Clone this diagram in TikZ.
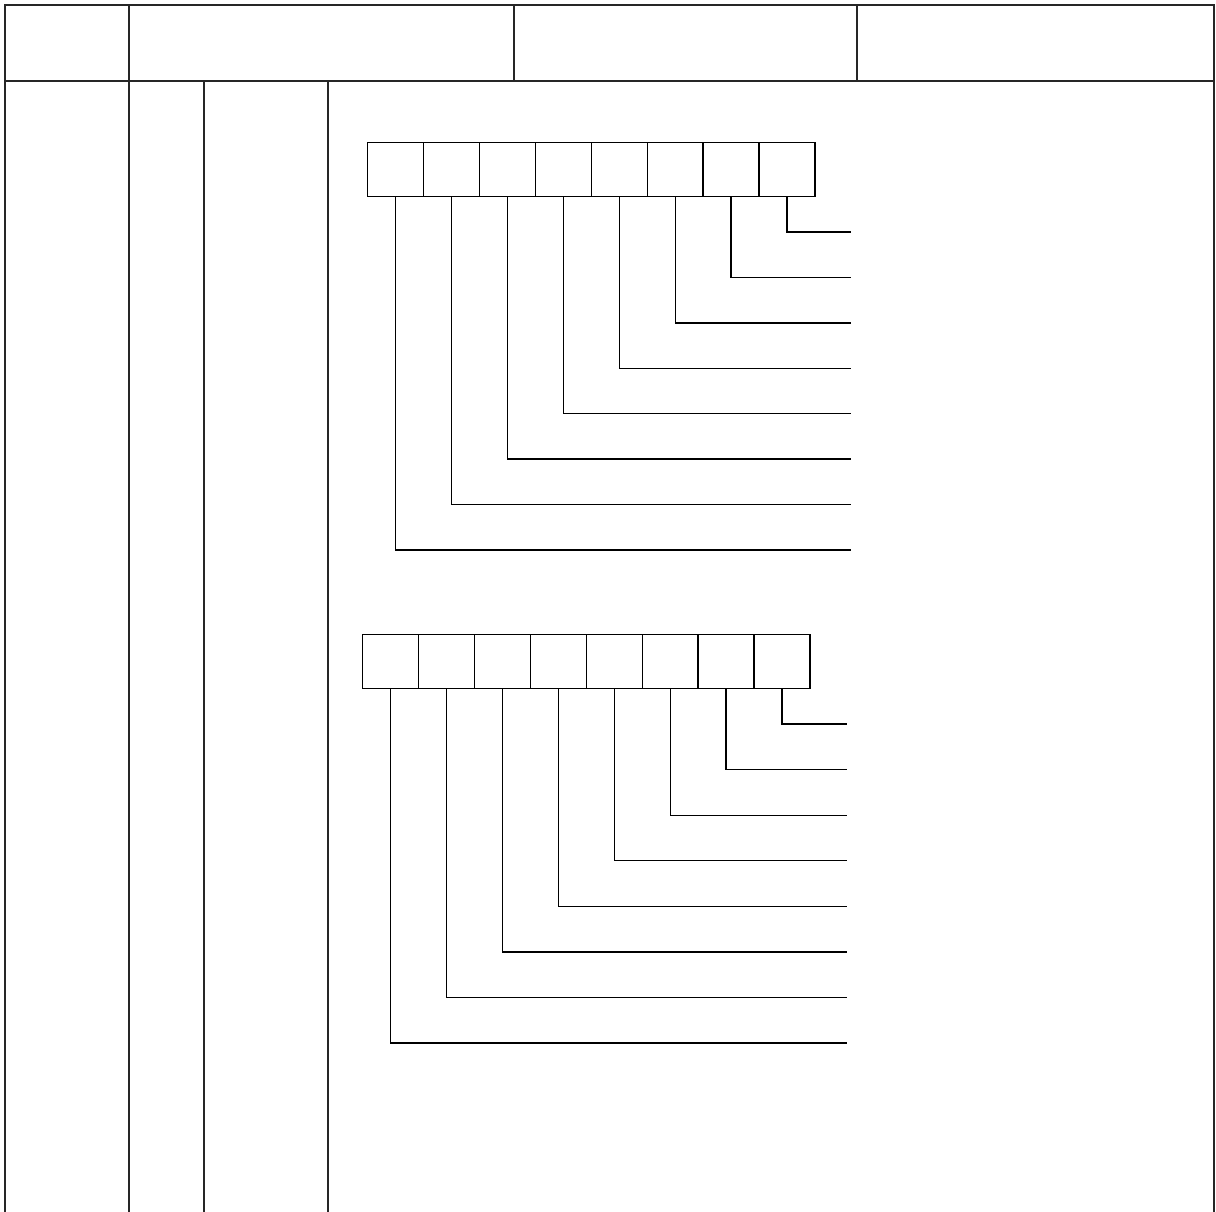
\documentclass[tikz,border=0pt]{standalone}
\begin{document}
\begin{tikzpicture}[x=1pt,y=-1pt,
  rule/.style={line width=1.3pt, draw=black!85},
  cell/.style={draw, line width=1.3pt, rectangle, minimum width=56pt, minimum height=54pt, inner sep=0pt, anchor=north west},
  wire/.style={line width=1.3pt}]
\useasboundingbox (0,0) rectangle (1216,1212);
% table frame
\draw[rule] (5,1212) -- (5,5) -- (1214,5) -- (1214,1212);
\draw[rule] (5,81) -- (1214,81);
\draw[rule] (129,5) -- (129,1212);
\draw[rule] (514,5) -- (514,81);
\draw[rule] (857,5) -- (857,81);
\draw[rule] (204,81) -- (204,1212);
\draw[rule] (328,81) -- (328,1212);
% upper register
\foreach \i in {0,...,7} {
  \node[cell] (a\i) at ({367+55.9*\i},142) {};
}
\foreach \i in {0,...,7} {
  \pgfmathsetmacro{\yy}{550-45.43*\i}
  \coordinate (ae\i) at (851,\yy);
  \draw[wire] (a\i.south) |- (ae\i);
}
% lower register
\foreach \i in {0,...,7} {
  \node[cell] (b\i) at ({362+55.9*\i},634) {};
}
\foreach \i in {0,...,7} {
  \pgfmathsetmacro{\yy}{1043-45.57*\i}
  \coordinate (be\i) at (847,\yy);
  \draw[wire] (b\i.south) |- (be\i);
}
\end{tikzpicture}
\end{document}
